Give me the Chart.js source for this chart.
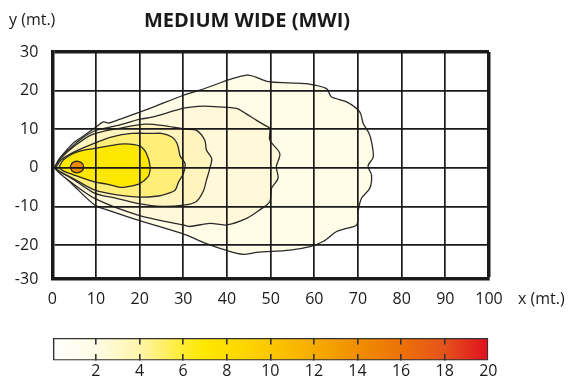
<html>
  <head>
    <meta charset="utf-8">
    <title>MEDIUM WIDE (MWI)</title>
    <script src="https://cdn.jsdelivr.net/npm/chart.js@4.4.1/dist/chart.umd.min.js"></script>
    <style>
      body { margin: 0; background: #fff; }
      canvas { display: block; }
    </style>
  </head>
  <body>
    <canvas id="plot" width="571" height="320"></canvas>
    <canvas id="scale" width="571" height="63"></canvas>
    <script>
      // isolux contours, outermost first (x, y in metres)
      const c1 = [[0.5,0],[1.5,2.2],[3.3,4.6],[5,6.6],[6.8,8.0],[9.8,10.4],[11.7,11.9],[12.9,11.6],[15.5,12.6],[22.8,15.6],[30,18.8],[33.8,20.1],[44.5,24.0],[49.5,22.3],[54,22.0],[58.2,21.8],[62.8,20.5],[63.9,18.4],[67.4,17.1],[70.4,14.5],[71.2,11.5],[72.5,9],[73.1,6.7],[73.5,2.8],[72.3,0.5],[73.1,-1.9],[72.7,-5.3],[70.8,-7.9],[70.0,-11.4],[69.7,-14.8],[67,-15.8],[65.1,-16.5],[62.0,-19.1],[59.0,-20.4],[54.4,-21.3],[46.8,-21.9],[43.7,-22.4],[39.9,-21.4],[35,-19.5],[30.4,-17.3],[19.8,-13.6],[12.9,-11.0],[9.8,-9.7],[4.8,-4.5],[2,-1.5],[0.5,0]];
      const c2 = [[0.5,0],[1.5,2.0],[2.9,3.7],[6.3,7.2],[9.8,9.6],[14.7,10.9],[20.1,12.6],[22.8,13.1],[30.4,15.5],[34.6,16.0],[38,15.8],[42.2,15.4],[43.7,14.5],[46.8,12.3],[48.7,11.0],[49.8,10.2],[49.8,7.2],[52.1,3.7],[51.3,0.3],[51.7,-2.7],[50.2,-5.3],[49.8,-8.8],[47.5,-10.9],[44.5,-13.1],[39.9,-14.8],[36.1,-14.4],[31.5,-15.2],[30.4,-14.9],[19.8,-12.3],[9.8,-8.0],[4,-3.5],[1.5,-1.2],[0.5,0]];
      const c3 = [[0.5,0],[2,2.5],[4.8,5.4],[9.1,8.6],[15.2,10.2],[21.3,11.3],[25.1,11.0],[30.4,10.0],[33,9.7],[34.9,7.2],[35.3,4.6],[36.5,2.4],[36.1,0],[35.3,-3.2],[34.6,-6.0],[33,-8.7],[30.4,-9.6],[25,-10.0],[19.8,-9.3],[14.7,-7.9],[9.8,-6.6],[4.8,-3.0],[1.5,-0.8],[0.5,0]];
      const c4 = [[0.8,0],[2,2],[4.8,4.0],[8.6,5.9],[13.7,8.0],[18.2,8.9],[22.8,8.9],[25,8.9],[27.4,8.0],[28.5,6.5],[28.9,5.0],[29.3,3],[30.4,1.1],[30,-1.5],[28.9,-3.7],[28.1,-5.8],[26,-6.8],[24.3,-7.3],[19.8,-7.6],[15.2,-7.1],[9.8,-5.8],[4.8,-2.8],[1.5,-0.8],[0.8,0]];
      const c5 = [[1.5,0],[2.5,2],[4.8,3.7],[7,4.5],[10.2,5.1],[13,5.7],[16.7,6.2],[20.1,5.6],[21.6,3.6],[22.4,0.3],[22.1,-2.0],[20.8,-3.5],[19.8,-4.2],[16.7,-5.0],[15.2,-5.0],[12.5,-4.2],[9.8,-3.7],[4.8,-1.8],[2.5,-0.8],[1.5,0]];
      const c6 = [[4.1,0.2],[4.6,1.3],[5.6,1.7],[6.7,1.3],[7.2,0.2],[6.7,-0.9],[5.6,-1.3],[4.6,-0.9],[4.1,0.2]];

      const contours = [c1, c2, c3, c4, c5, c6];
      const fills = ['#FFFDE8', '#FFF9D9', '#FFF4BE', '#FFEF78', '#FFE800', '#EF8A00'];

      const xTicks = [0, 10, 20, 30, 40, 50, 60, 70, 80, 90, 100];
      const yTicks = [-28.8, -20, -10, 0, 10, 20, 30];
      const yTickLabels = ['-30', '-20', '-10', '0', '10', '20', '30'];

      const barTicks = [0, 2, 4, 6, 8, 10, 12, 14, 16, 18, 20];
      const barStops = [0, 2, 4, 6, 7, 8, 10, 12, 14, 16, 18, 20];
      const barColors = ['#FFFFFF', '#FFFCE4', '#FFF5AA', '#FFEC30', '#FFE800', '#FFDE00', '#FDC700', '#F7AC00', '#F18E00', '#EC7208', '#E5521C', '#E0101E'];

      const FONT = '"Open Sans", sans-serif';
      const INK = '#1a1a1a';

      const labels = {
        id: 'labels',
        afterDraw(chart) {
          const ctx = chart.ctx;
          ctx.save();
          ctx.fillStyle = INK;
          ctx.textBaseline = 'middle';
          ctx.font = 'bold 20px ' + FONT;
          ctx.textAlign = 'center';
          ctx.fillText('MEDIUM WIDE (MWI)', 247, 21);
          ctx.font = '16px ' + FONT;
          ctx.textAlign = 'left';
          ctx.fillText('y (mt.)', 9, 20);
          ctx.fillText('x (mt.)', 518, 299);
          ctx.restore();
        }
      };

      new Chart(document.getElementById('plot'), {
        type: 'scatter',
        data: {
          datasets: contours.map((c, i) => ({
            data: c.map(p => ({x: p[0], y: p[1]})),
            showLine: true,
            fill: 'shape',
            backgroundColor: fills[i],
            borderColor: '#2a2a2a',
            borderWidth: 1.3,
            tension: 0.3,
            pointRadius: 0,
            order: contours.length - i
          }))
        },
        options: {
          responsive: false,
          animation: false,
          layout: {padding: {left: 0, right: 82, top: 52, bottom: 1}},
          plugins: {legend: {display: false}, tooltip: {enabled: false}},
          scales: {
            x: {
              type: 'linear', min: 0, max: 100,
              afterBuildTicks: s => { s.ticks = xTicks.map(v => ({value: v})); },
              afterFit: s => { s.height = 40; },
              ticks: {color: INK, font: {family: FONT, size: 16}, padding: 11, maxRotation: 0},
              grid: {color: INK, lineWidth: c => (c.tick && c.tick.value === 100 ? 3.5 : 1.7), drawTicks: false, z: 1},
              border: {color: INK, width: 3.5, z: 1}
            },
            y: {
              type: 'linear', min: -28.8, max: 30,
              afterBuildTicks: s => { s.ticks = yTicks.map(v => ({value: v})); },
              afterFit: s => { s.width = 52.3; },
              ticks: {
                color: INK, font: {family: FONT, size: 16}, padding: 14,
                callback: (v, i) => yTickLabels[i]
              },
              grid: {color: INK, lineWidth: c => (c.tick && c.tick.value === 30 ? 3.5 : 1.7), drawTicks: false, z: 1},
              border: {color: INK, width: 3.5, z: 1}
            }
          }
        },
        plugins: [labels]
      });

      new Chart(document.getElementById('scale'), {
        type: 'bar',
        data: {
          labels: [''],
          datasets: [{
            data: [[barTicks[0], barTicks[barTicks.length - 1]]],
            backgroundColor: c => {
              const a = c.chart.chartArea;
              if (!a) return barColors[0];
              const g = c.chart.ctx.createLinearGradient(a.left, 0, a.right, 0);
              barStops.forEach((s, i) => g.addColorStop(s / 20, barColors[i]));
              return g;
            },
            borderColor: '#333',
            borderWidth: 1.6,
            borderSkipped: false,
            barPercentage: 1,
            categoryPercentage: 1
          }]
        },
        options: {
          indexAxis: 'y',
          responsive: false,
          animation: false,
          layout: {padding: {left: 52.3, right: 82.7, top: 18, bottom: 0}},
          plugins: {legend: {display: false}, tooltip: {enabled: false}},
          scales: {
            x: {
              type: 'linear', min: 0, max: 20,
              afterBuildTicks: s => { s.ticks = barTicks.map(v => ({value: v})); },
              afterFit: s => { s.height = 22.5; },
              ticks: {color: INK, font: {family: FONT, size: 16}, padding: 1, callback: v => (v === 0 ? '' : v)},
              grid: {
                color: c => (c.tick && (c.tick.value === 0 || c.tick.value === 20) ? 'rgba(0,0,0,0)' : '#333'),
                lineWidth: 1.6, drawTicks: false, z: 1
              },
              border: {display: false, dash: [6.5, 9.5]}
            },
            y: {display: false}
          }
        }
      });
    </script>
  </body>
</html>
